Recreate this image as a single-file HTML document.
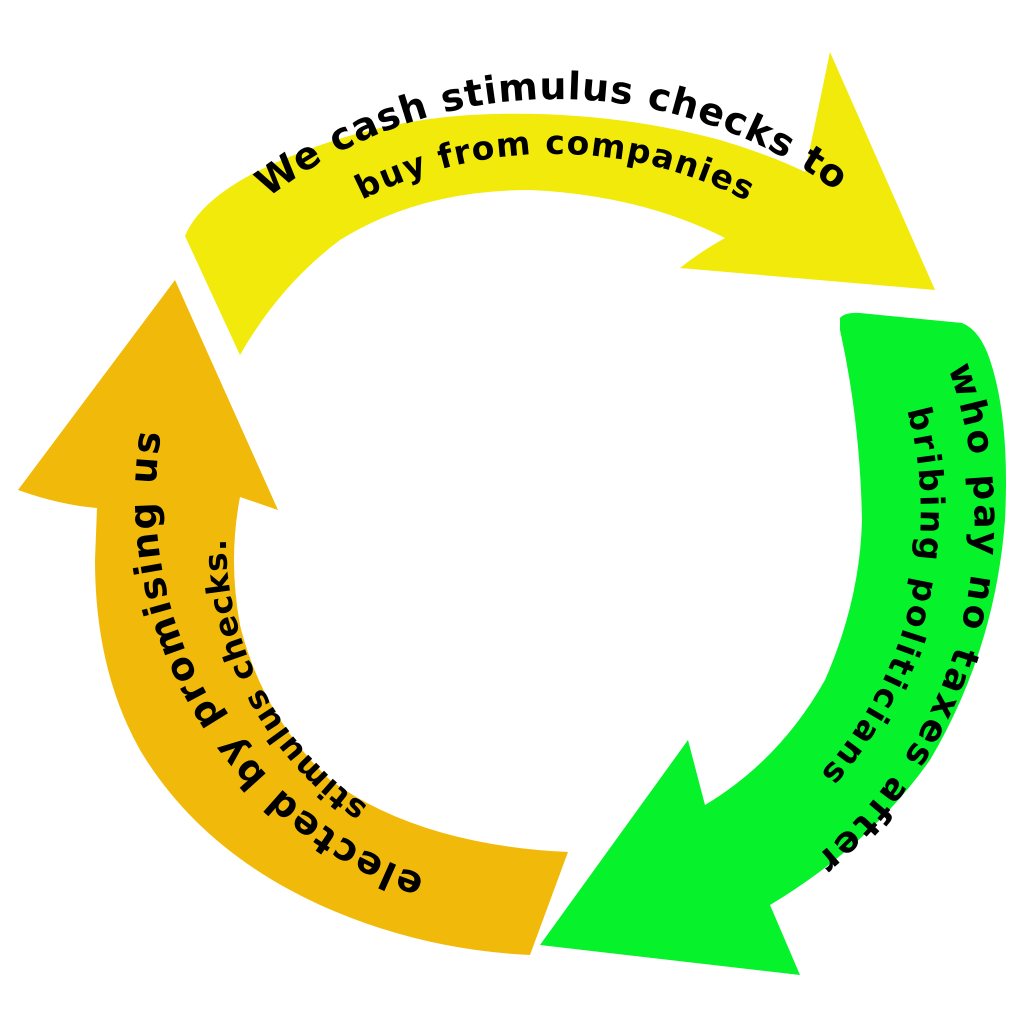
<!DOCTYPE html>
<html><head><meta charset="utf-8"><style>html,body{margin:0;padding:0;background:#fff}svg{display:block}</style></head>
<body>
<svg width="1024" height="1024" viewBox="0 0 1024 1024" xmlns="http://www.w3.org/2000/svg">
<defs>
<path id="y1" d="M268,198 A470,470 0 0 1 862,212"/>
<path id="y2" d="M362,200 A420,420 0 0 1 756,206"/>
<path id="g1" d="M948,368 A440,440 0 0 1 802,868"/>
<path id="g2" d="M907,410 A390,390 0 0 1 822,772"/>
<path id="o1" d="M425,876 A400,400 0 0 1 162,428"/>
<path id="o2" d="M368,806 A320,320 0 0 1 226,538"/>
</defs>
<!-- yellow -->
<path fill="#f1ea0a" d="M185,236 Q200,200 260,170 Q360,122 470,115 Q600,108 720,140 Q770,155 805,172 L830,52 L935,290 L680,268 Q700,252 725,238 Q640,195 530,190 Q420,190 340,240 Q280,285 240,355 Z"/>
<!-- green -->
<path fill="#06f22b" d="M840,318 Q845,312 860,313 L962,323 Q980,330 990,360 Q1010,420 1005,520 Q995,650 930,760 Q870,845 770,905 L800,975 L540,945 L688,740 L705,805 Q780,760 825,680 Q860,600 862,520 Q860,420 840,330 Z"/>
<!-- orange -->
<path fill="#f1ba0a" d="M568,852 L530,955 Q420,950 320,905 Q200,850 140,750 Q95,670 95,560 L97,508 Q60,505 18,490 L175,280 L278,510 L240,497 Q228,560 240,625 Q262,715 330,780 Q420,845 568,852 Z"/>
<g font-family="'DejaVu Sans','Liberation Sans',sans-serif" font-weight="bold" fill="#000">
<text font-size="38"><textPath href="#y1" textLength="610" lengthAdjust="spacing">We cash stimulus checks to</textPath></text>
<text font-size="33"><textPath href="#y2" textLength="400" lengthAdjust="spacing">buy from companies</textPath></text>
<text font-size="36"><textPath href="#g1" textLength="540" lengthAdjust="spacing">who pay no taxes after</textPath></text>
<text font-size="33"><textPath href="#g2" textLength="390" lengthAdjust="spacing">bribing politicians</textPath></text>
<text font-size="38"><textPath href="#o1" textLength="560" lengthAdjust="spacing">elected by promising us</textPath></text>
<text font-size="32"><textPath href="#o2" textLength="315" lengthAdjust="spacing">stimulus checks.</textPath></text>
</g>
</svg>
</body></html>
